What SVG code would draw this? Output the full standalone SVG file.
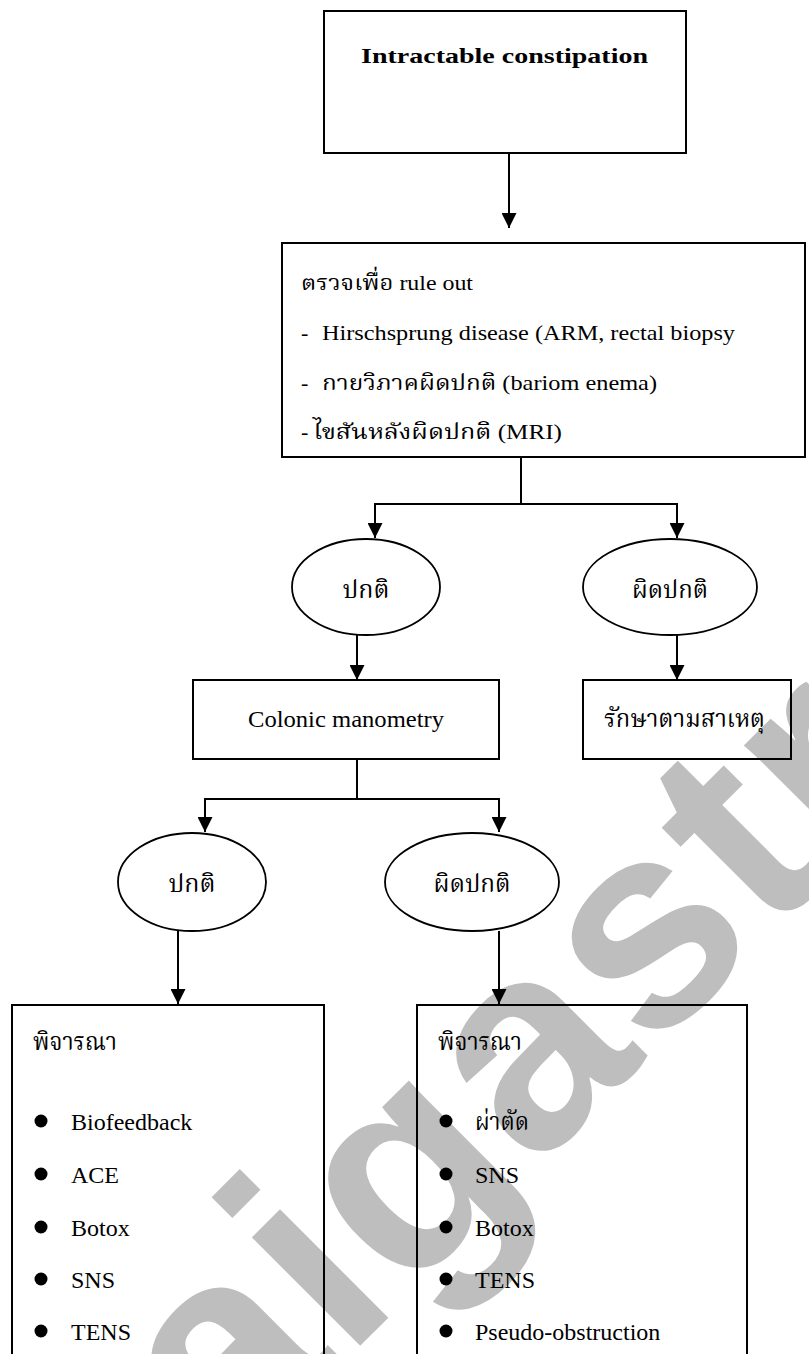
<svg xmlns="http://www.w3.org/2000/svg" width="809" height="1354" viewBox="0 0 809 1354">
<style>
.box{fill:none;stroke:#000;stroke-width:2}
.ell{fill:none;stroke:#000;stroke-width:1.8}
.ln{fill:none;stroke:#000;stroke-width:2}
.arr{fill:none;stroke:#000;stroke-width:2;marker-end:url(#ah)}
.t{font-family:"Liberation Serif","Noto Serif Thai","Noto Sans Thai","DejaVu Serif",serif;fill:#000;font-size:22px}
.li{font-size:24px}
.c{text-anchor:middle}
.wm{font-family:"Liberation Sans",Arial,sans-serif;font-weight:bold;font-size:290px;letter-spacing:4px;fill:#bebebe}
</style>
<defs>
<marker id="ah" markerUnits="userSpaceOnUse" markerWidth="15" markerHeight="15" refX="15" refY="7.5" orient="auto">
<path d="M0,0 L15,7.5 L0,15 Z" fill="#000"/>
</marker>
</defs>
<rect width="809" height="1354" fill="#fff"/>
<g id="watermark">
<text class="wm" transform="translate(229,1477) rotate(-45)">aigastro</text>
</g>
<g id="connectors">
<line class="arr" x1="509" y1="153" x2="509" y2="228"/>
<polyline class="ln" points="521,457 521,504"/>
<polyline class="arr" points="521,504 375,504 375,538"/>
<polyline class="arr" points="521,504 677,504 677,538"/>
<line class="arr" x1="357" y1="635" x2="357" y2="680"/>
<line class="arr" x1="677" y1="635" x2="677" y2="680"/>
<polyline class="ln" points="357,759 357,799"/>
<polyline class="arr" points="357,799 205,799 205,832"/>
<polyline class="arr" points="357,799 499,799 499,832"/>
<line class="arr" x1="178" y1="931" x2="178" y2="1004"/>
<line class="arr" x1="499" y1="931" x2="499" y2="1004"/>
</g>
<g id="n-intractable">
<rect class="box" x="324" y="11" width="362" height="142"/>
<text class="t" x="361" y="63" font-weight="bold" font-size="28" textLength="287" lengthAdjust="spacingAndGlyphs">Intractable constipation</text>
</g>
<g id="n-ruleout">
<rect class="box" x="282" y="243" width="523" height="214"/>
<text class="t" x="301" y="290" textLength="172" lengthAdjust="spacingAndGlyphs">ตรวจเพื่อ rule out</text>
<text class="t" x="301" y="340">-</text>
<text class="t" x="322" y="340" textLength="413" lengthAdjust="spacingAndGlyphs">Hirschsprung disease (ARM, rectal biopsy</text>
<text class="t" x="301" y="390">-</text>
<text class="t" x="322" y="390" textLength="335" lengthAdjust="spacingAndGlyphs">กายวิภาคผิดปกติ (bariom enema)</text>
<text class="t" x="301" y="439">-</text>
<text class="t" x="313" y="439" textLength="249" lengthAdjust="spacingAndGlyphs">ไขสันหลังผิดปกติ (MRI)</text>
</g>
<g id="n-normal1">
<ellipse class="ell" cx="366" cy="587" rx="74" ry="48"/>
<text class="t c li" x="366" y="598" textLength="47" lengthAdjust="spacingAndGlyphs">ปกติ</text>
</g>
<g id="n-abnormal1">
<ellipse class="ell" cx="670" cy="587" rx="87" ry="48"/>
<text class="t c li" x="670" y="598" textLength="76" lengthAdjust="spacingAndGlyphs">ผิดปกติ</text>
</g>
<g id="n-colonic">
<rect class="box" x="193" y="680" width="306" height="79"/>
<text class="t li" x="248" y="727" textLength="196" lengthAdjust="spacingAndGlyphs">Colonic manometry</text>
</g>
<g id="n-cause">
<rect class="box" x="583" y="680" width="208" height="79"/>
<text class="t li" x="604" y="727" textLength="161" lengthAdjust="spacingAndGlyphs">รักษาตามสาเหตุ</text>
</g>
<g id="n-normal2">
<ellipse class="ell" cx="192" cy="882" rx="74" ry="49"/>
<text class="t c li" x="192" y="892" textLength="47" lengthAdjust="spacingAndGlyphs">ปกติ</text>
</g>
<g id="n-abnormal2">
<ellipse class="ell" cx="472" cy="882" rx="87" ry="49"/>
<text class="t c li" x="472" y="892" textLength="77" lengthAdjust="spacingAndGlyphs">ผิดปกติ</text>
</g>
<g id="n-consider-left">
<rect class="box" x="12" y="1005" width="312" height="360"/>
<text class="t li" x="33" y="1050" textLength="84" lengthAdjust="spacingAndGlyphs">พิจารณา</text>
<circle cx="41" cy="1121" r="6.5"/>
<text class="t li" x="71" y="1130">Biofeedback</text>
<circle cx="41" cy="1174" r="6.5"/>
<text class="t li" x="71" y="1183">ACE</text>
<circle cx="41" cy="1227" r="6.5"/>
<text class="t li" x="71" y="1236">Botox</text>
<circle cx="41" cy="1279" r="6.5"/>
<text class="t li" x="71" y="1288">SNS</text>
<circle cx="41" cy="1331" r="6.5"/>
<text class="t li" x="71" y="1340">TENS</text>
</g>
<g id="n-consider-right">
<rect class="box" x="417" y="1005" width="330" height="360"/>
<text class="t li" x="438" y="1050" textLength="84" lengthAdjust="spacingAndGlyphs">พิจารณา</text>
<circle cx="446" cy="1121" r="6.5"/>
<text class="t li" x="475" y="1130" textLength="54" lengthAdjust="spacingAndGlyphs">ผ่าตัด</text>
<circle cx="446" cy="1174" r="6.5"/>
<text class="t li" x="475" y="1183">SNS</text>
<circle cx="446" cy="1227" r="6.5"/>
<text class="t li" x="475" y="1236">Botox</text>
<circle cx="446" cy="1279" r="6.5"/>
<text class="t li" x="475" y="1288">TENS</text>
<circle cx="446" cy="1331" r="6.5"/>
<text class="t li" x="475" y="1340">Pseudo-obstruction</text>
</g>
</svg>
